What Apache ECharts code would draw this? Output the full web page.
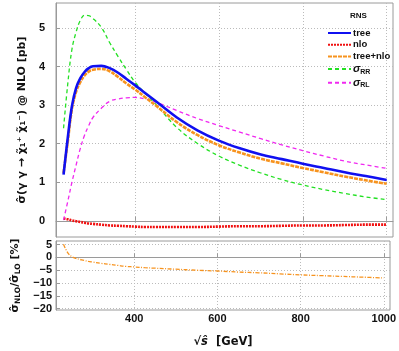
<!DOCTYPE html>
<html>
<head>
<meta charset="utf-8">
<script src="https://cdn.jsdelivr.net/npm/echarts@6.0.0/dist/echarts.min.js"></script>
<style>
  html, body { margin: 0; padding: 0; background: #fff; }
  #chart { width: 399px; height: 351px; }
</style>
</head>
<body>
<div id="chart"></div>
<script>
// sqrt(s) sampling points [GeV]
const energy = [230, 240, 250, 260, 270, 280, 290, 300, 320, 340, 360, 380, 400, 425, 450, 500, 550, 600, 650, 700, 750, 800, 850, 900, 950, 1000];

// cross sections [pb]
const tree    = [1.20, 2.15, 2.98, 3.45, 3.70, 3.86, 3.96, 4.01, 4.02, 3.96, 3.84, 3.68, 3.52, 3.31, 3.10, 2.68, 2.34, 2.08, 1.88, 1.72, 1.60, 1.48, 1.37, 1.26, 1.16, 1.06];
const nlo     = [0.06, 0.04, 0.01, -0.01, -0.03, -0.05, -0.07, -0.08, -0.10, -0.12, -0.13, -0.14, -0.15, -0.16, -0.16, -0.16, -0.16, -0.15, -0.14, -0.14, -0.13, -0.12, -0.12, -0.11, -0.10, -0.10];
const treeNlo = [1.24, 2.05, 2.90, 3.35, 3.60, 3.77, 3.87, 3.92, 3.94, 3.88, 3.73, 3.56, 3.41, 3.20, 2.99, 2.56, 2.22, 1.96, 1.77, 1.61, 1.49, 1.37, 1.26, 1.15, 1.05, 0.96];
const sigmaRR = [2.40, 3.55, 4.45, 4.90, 5.20, 5.33, 5.32, 5.25, 5.02, 4.62, 4.26, 3.92, 3.60, 3.30, 3.02, 2.42, 2.00, 1.68, 1.44, 1.24, 1.07, 0.93, 0.81, 0.71, 0.62, 0.55];
const sigmaRL = [0.02, 0.50, 1.00, 1.45, 1.88, 2.22, 2.47, 2.68, 2.92, 3.10, 3.16, 3.19, 3.20, 3.16, 3.08, 2.86, 2.65, 2.47, 2.30, 2.13, 1.97, 1.82, 1.68, 1.55, 1.45, 1.36];

// ratio sigma_NLO / sigma_LO [%]
const ratio   = [5.1, 1.9, 0.3, -0.4, -0.8, -1.2, -1.55, -1.8, -2.3, -2.7, -3.1, -3.5, -3.7, -4.0, -4.2, -4.6, -5.0, -5.3, -5.7, -6.0, -6.4, -6.8, -7.1, -7.4, -7.7, -8.0];

// tick labels
const xTicks = [400, 600, 800, 1000];
const yTicksTop = [0, 1, 2, 3, 4, 5];
const yTicksBottom = [-20, -15, -10, -5, 0, 5];

const pairs = (ys) => energy.map((x, i) => [x, ys[i]]);

const FONT = 'Liberation Sans, Arial, sans-serif';
const TITLE_FONT = 'DejaVu Sans, sans-serif';
const frameColor = '#9a9a9a';
const gridLine = { show: true, lineStyle: { color: '#bbbbbb', type: [1, 2], width: 1 } };
const minus = (v) => String(v).replace('-', '\u2212');

const chart = echarts.init(document.getElementById('chart'));

function lineSeries(name, ys, color, width, type, extra) {
  return Object.assign({
    name: name,
    type: 'line',
    xAxisIndex: 0,
    yAxisIndex: 0,
    data: pairs(ys),
    smooth: 0.4,
    symbol: 'none',
    lineStyle: { color: color, width: width, type: type },
    itemStyle: { color: color },
    animation: false
  }, extra || {});
}

const option = {
  animation: false,
  textStyle: { fontFamily: FONT },
  grid: [
    { left: 56, right: 6, top: 3, height: 234, show: true, borderColor: frameColor, borderWidth: 1 },
    { left: 56, right: 6, top: 241, height: 69, show: true, borderColor: frameColor, borderWidth: 1 }
  ],
  legend: {
    orient: 'vertical',
    left: 322,
    top: 23,
    itemWidth: 23,
    itemHeight: 8,
    itemGap: 1.7,
    itemStyle: { opacity: 0 },
    data: ['tree', 'nlo', 'tree+nlo', 'σRR', 'σRL'],
    formatter: function (name) {
      if (name === 'σRR') return '{g|σ}{s|RR}';
      if (name === 'σRL') return '{g|σ}{s|RL}';
      return name;
    },
    textStyle: {
      fontSize: 9.5,
      fontWeight: 'bold',
      color: '#111',
      lineHeight: 10,
      padding: [0, 0, 0, -3],
      rich: {
        g: { fontSize: 11, fontStyle: 'italic', fontWeight: 'bold', color: '#111', lineHeight: 12 },
        s: { fontSize: 7, fontWeight: 'bold', color: '#111', verticalAlign: 'bottom', lineHeight: 12 }
      }
    }
  },
  graphic: [
    {
      type: 'text',
      left: 350,
      top: 12,
      style: { text: 'RNS', font: 'bold 8px ' + FONT, fill: '#111' }
    }
  ],
  xAxis: [
    {
      type: 'value', gridIndex: 0, min: 212, max: 1015,
      axisLine: { show: true, lineStyle: { color: frameColor } },
      axisTick: { show: true, inside: true, length: 4, customValues: xTicks, lineStyle: { color: frameColor } },
      axisLabel: { show: false },
      splitLine: gridLine
    },
    {
      type: 'value', gridIndex: 1, min: 212, max: 1015,
      axisLine: { show: true, lineStyle: { color: frameColor } },
      axisTick: { show: true, inside: true, length: 4, customValues: xTicks, lineStyle: { color: frameColor } },
      axisLabel: { customValues: xTicks, fontSize: 11, fontWeight: 'bold', color: '#111', margin: 3, formatter: (v) => String(v) },
      splitLine: gridLine,
      name: '{m|√}{o|ŝ}{m|  [GeV]}',
      nameLocation: 'middle',
      nameGap: 26,
      nameTextStyle: {
        rich: {
          m: { fontSize: 11.5, fontWeight: 'bold', color: '#111', fontFamily: TITLE_FONT },
          o: { fontSize: 11.5, fontWeight: 'bold', fontStyle: 'italic', color: '#111', fontFamily: TITLE_FONT }
        }
      }
    }
  ],
  yAxis: [
    {
      type: 'value', gridIndex: 0, min: -0.42, max: 5.65,
      axisLine: { show: true, lineStyle: { color: frameColor } },
      axisTick: { show: true, inside: true, length: 4, customValues: yTicksTop, lineStyle: { color: frameColor } },
      axisLabel: { customValues: yTicksTop, fontSize: 11, fontWeight: 'bold', color: '#111', margin: 11 },
      splitLine: gridLine,
      name: 'σ̂(γ γ → χ̃₁⁺ χ̃₁⁻) @ NLO [pb]',
      nameLocation: 'middle',
      nameRotate: 90,
      nameGap: 21,
      nameTextStyle: { fontSize: 11, fontWeight: 'bold', color: '#111', fontFamily: TITLE_FONT }
    },
    {
      type: 'value', gridIndex: 1, min: -20.5, max: 6.4,
      axisLine: { show: true, lineStyle: { color: frameColor } },
      axisTick: { show: true, inside: true, length: 4, customValues: yTicksBottom, lineStyle: { color: frameColor } },
      axisLabel: { customValues: yTicksBottom, fontSize: 11, fontWeight: 'bold', color: '#111', margin: 4, formatter: minus },
      splitLine: gridLine,
      name: '{m|σ̂}{s|NLO}{m|/σ̂}{s|LO}{m| [%]}',
      nameLocation: 'middle',
      nameRotate: 90,
      nameGap: 25,
      nameTextStyle: {
        rich: {
          m: { fontSize: 11, fontWeight: 'bold', color: '#111', lineHeight: 14, fontFamily: TITLE_FONT },
          s: { fontSize: 7.5, fontWeight: 'bold', color: '#111', verticalAlign: 'bottom', lineHeight: 14, fontFamily: TITLE_FONT }
        }
      }
    }
  ],
  series: [
    lineSeries('tree', tree, '#1010f0', 2.6, 'solid', { z: 5 }),
    lineSeries('nlo', nlo, '#f01010', 2.6, [2, 1]),
    lineSeries('tree+nlo', treeNlo, '#f7931e', 2.6, [4, 1], { z: 4 }),
    lineSeries('σRR', sigmaRR, '#22e022', 1.3, [4, 3]),
    lineSeries('σRL', sigmaRL, '#f028f0', 1.3, [4, 3]),
    lineSeries('ratio', ratio, '#f7931e', 1.3, [4, 1.5, 1, 1.5], { xAxisIndex: 1, yAxisIndex: 1 })
  ]
};

chart.setOption(option);
</script>
</body>
</html>
